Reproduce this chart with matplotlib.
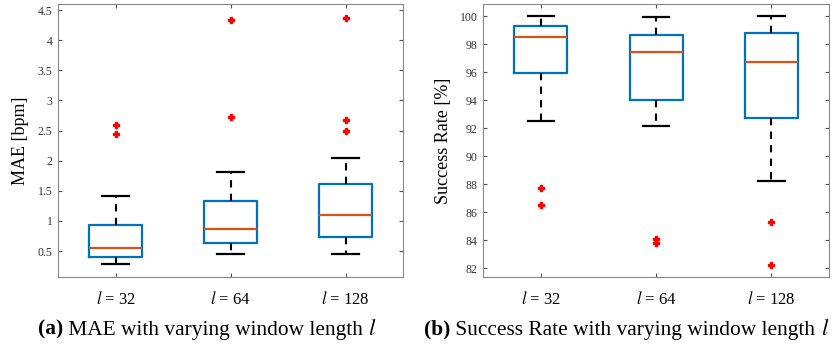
import matplotlib
matplotlib.use("Agg")
import matplotlib.pyplot as plt
from matplotlib.text import Annotation

plt.rcParams["font.family"] = ["Liberation Serif", "DejaVu Serif"]
plt.rcParams["mathtext.fontset"] = "stix"

window_labels = [r"$l$ = 32", r"$l$ = 64", r"$l$ = 128"]

# MAE [bpm] box statistics per window length
mae_q1 = [0.40, 0.64, 0.727]
mae_med = [0.545, 0.865, 1.10]
mae_q3 = [0.94, 1.33, 1.61]
mae_lo = [0.28, 0.45, 0.445]
mae_hi = [1.41, 1.82, 2.05]
mae_out = [[2.59, 2.445], [4.33, 2.72], [4.37, 2.68, 2.49]]

# Success rate [%] box statistics per window length
sr_q1 = [95.96, 94.0, 92.7]
sr_med = [98.5, 97.41, 96.72]
sr_q3 = [99.31, 98.67, 98.81]
sr_lo = [92.49, 92.15, 88.23]
sr_hi = [100.0, 99.93, 100.0]
sr_out = [[87.71, 86.52], [84.11, 83.78], [85.33, 82.24]]

BLUE = "#0072BD"
ORANGE = "#D95319"
CAP_SIZE = 15.4


def stats(q1, med, q3, lo, hi, out):
    return [dict(q1=a, med=b, q3=c, whislo=d, whishi=e, fliers=f)
            for a, b, c, d, e, f in zip(q1, med, q3, lo, hi, out)]


def draw(ax, st, ylim, yticks, yticklabels, ylabel):
    ax.bxp(st, positions=[1, 2, 3], widths=0.46, showfliers=True,
           boxprops=dict(color=BLUE, linewidth=1.6),
           medianprops=dict(color=ORANGE, linewidth=1.6),
           whiskerprops=dict(color="black", linewidth=1.5, linestyle=(0, (3.5, 3.0))),
           capprops=dict(color="black", linewidth=1.6),
           capwidths=0.23,
           flierprops=dict(marker="P", markerfacecolor="red", markeredgecolor="red",
                           markersize=4.5, linestyle="none"))
    ax.set_xlim(0.5, 3.5)
    ax.set_ylim(*ylim)
    ax.set_yticks(yticks)
    ax.set_yticklabels(yticklabels)
    ax.set_xticks([1, 2, 3])
    ax.set_xticklabels(window_labels, fontsize=12)
    ax.tick_params(axis="y", labelsize=8.5, direction="in", length=3,
                   right=True, colors="#555555", labelcolor="#333333", pad=4)
    ax.tick_params(axis="x", direction="in", length=3, top=True,
                   colors="#555555", labelcolor="black", pad=10)
    for s in ax.spines.values():
        s.set_color("#888888")
        s.set_linewidth(0.8)
    ax.set_ylabel(ylabel, fontsize=13, labelpad=6)


def caption(x, y, tag, body):
    # bold tag, then the plain text, then an italic symbol, chained left to right
    t1 = fig.text(x, y, tag, fontsize=CAP_SIZE, fontweight="bold",
                  ha="left", va="baseline")
    t2 = fig.add_artist(Annotation(" " + body + " ", xy=(1, 0), xycoords=t1,
                                   fontsize=CAP_SIZE, ha="left", va="bottom"))
    fig.add_artist(Annotation(r"$l$", xy=(1, 0), xycoords=t2,
                              fontsize=CAP_SIZE + 1, ha="left", va="bottom"))


fig = plt.figure(figsize=(8.4, 3.47), dpi=100)
ax1 = fig.add_axes([0.069, 0.2017, 0.411, 0.7868])
ax2 = fig.add_axes([0.5754, 0.2017, 0.4115, 0.7868])

draw(ax1, stats(mae_q1, mae_med, mae_q3, mae_lo, mae_hi, mae_out),
     (0.07, 4.6), [0.5, 1, 1.5, 2, 2.5, 3, 3.5, 4, 4.5],
     ["0.5", "1", "1.5", "2", "2.5", "3", "3.5", "4", "4.5"], "MAE [bpm]")
draw(ax2, stats(sr_q1, sr_med, sr_q3, sr_lo, sr_hi, sr_out),
     (81.38, 100.86), list(range(82, 101, 2)),
     [str(v) for v in range(82, 101, 2)], "Success Rate [%]")

caption(38 / 840, 0.035, "(a)", "MAE with varying window length")
caption(424 / 840, 0.035, "(b)", "Success Rate with varying window length")

fig.savefig("out.png", dpi=100)
